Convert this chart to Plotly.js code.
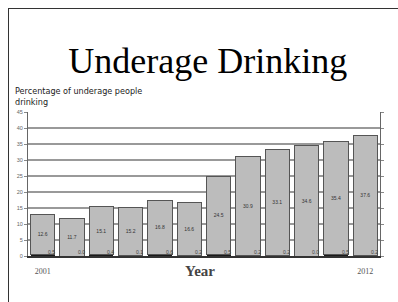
<!DOCTYPE html>
<html>
<head>
<meta charset="utf-8">
<script src="https://cdn.plot.ly/plotly-3.0.1.min.js"></script>
<style>
  html, body { margin: 0; padding: 0; background: #fff; }
  #wrap { position: relative; width: 398px; height: 302px; }
  #chart { position: absolute; left: 0; top: 0; width: 398px; height: 302px; }
  #frame { position: absolute; left: 8px; top: 8px; width: 390px; height: 294px;
           border-left: 1px solid #333; border-top: 1px solid #333; pointer-events: none; }
</style>
</head>
<body>
<div id="wrap">
  <div id="chart"></div>
  <div id="frame"></div>
</div>
<script>
// Data
const years = [2001, 2002, 2003, 2004, 2005, 2006, 2007, 2008, 2009, 2010, 2011, 2012];
const drinkingPct = [12.6, 11.7, 15.1, 15.2, 16.8, 16.6, 24.5, 30.9, 33.1, 34.6, 35.4, 37.6];
const smallVals = [0.5, 0.0, 0.4, 0.1, 0.6, 0.2, 0.5, 0.2, 0.2, 0.0, 0.5, 0.2];
const xTickVals = [2001, 2012];
const xTickText = ['2001', '2012'];

const traces = [
  {
    type: 'bar', x: years, y: smallVals,
    marker: { color: '#1a1a1a', line: { width: 0 } },
    hoverinfo: 'skip', showlegend: false
  },
  {
    type: 'bar', x: years, y: drinkingPct,
    marker: { color: '#bcbcbc', line: { color: '#555555', width: 1 } },
    text: drinkingPct.map(v => v.toFixed(1)),
    textposition: 'inside', insidetextanchor: 'middle',
    textfont: { family: 'Liberation Sans, Arial, sans-serif', size: 5, color: '#333' },
    constraintext: 'none',
    showlegend: false
  }
];

const annotations = years.map((yr, i) => ({
  x: yr, y: 0, xref: 'x', yref: 'y',
  text: smallVals[i].toFixed(1), showarrow: false,
  xshift: 9, yshift: 4,
  font: { family: 'Liberation Sans, Arial, sans-serif', size: 5, color: '#444' }
}));

annotations.push({
  xref: 'paper', yref: 'paper', x: -0.042, y: 1.195, xanchor: 'left', yanchor: 'top',
  align: 'left', showarrow: false,
  text: 'Percentage of underage people<br>drinking',
  font: { family: 'DejaVu Sans, sans-serif', size: 8.1, color: '#222' }
});
annotations.push({
  xref: 'paper', yref: 'paper', x: 0.489, y: -0.104, xanchor: 'center', yanchor: 'middle',
  showarrow: false, text: '<b>Year</b>',
  font: { family: 'Liberation Serif, Times New Roman, serif', size: 15, color: '#444' }
});

const layout = {
  width: 398, height: 302,
  margin: { l: 28, r: 18, t: 112, b: 46 },
  paper_bgcolor: 'rgba(0,0,0,0)', plot_bgcolor: 'rgba(0,0,0,0)',
  barmode: 'stack', bargap: 0.18,
  title: {
    text: 'Underage Drinking',
    font: { family: 'Liberation Serif, Times New Roman, serif', size: 36, color: '#000' },
    x: 0.522, xanchor: 'center', yref: 'container', y: 0.80, yanchor: 'middle'
  },
  xaxis: {
    type: 'linear', range: [2000.5, 2012.5],
    tickvals: xTickVals, ticktext: xTickText, ticks: '',
    ticklabelstandoff: 7,
    tickfont: { family: 'Liberation Serif, Times New Roman, serif', size: 8, color: '#555' },
    showline: true, linecolor: '#333', linewidth: 1.5,
    showgrid: false, zeroline: false, fixedrange: true
  },
  yaxis: {
    range: [0, 45], dtick: 5, tick0: 0,
    showgrid: true, gridcolor: '#999999', gridwidth: 1.5,
    showline: true, linecolor: '#666', linewidth: 1,
    mirror: 'ticks',
    ticks: 'outside', ticklen: 3, tickcolor: '#888',
    tickfont: { family: 'Liberation Sans, Arial, sans-serif', size: 5.5, color: '#666' },
    zeroline: false, fixedrange: true
  },
  annotations: annotations,
  font: { family: 'Liberation Sans, Arial, sans-serif' }
};

Plotly.newPlot('chart', traces, layout, { displayModeBar: false, staticPlot: true });
</script>
</body>
</html>
